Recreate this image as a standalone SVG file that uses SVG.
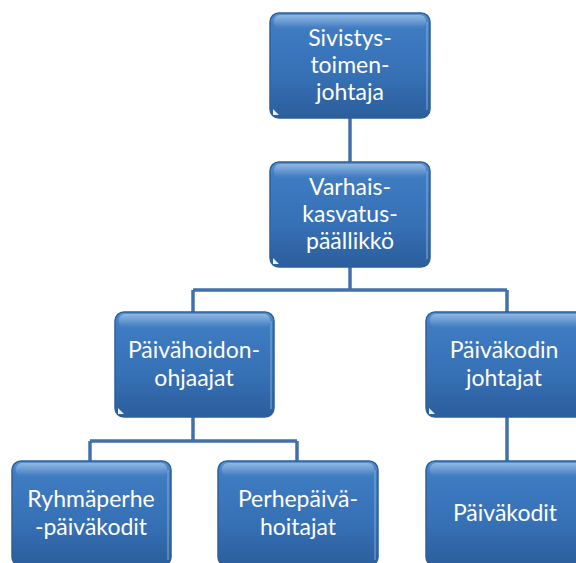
<svg xmlns="http://www.w3.org/2000/svg" width="576" height="563" viewBox="0 0 576 563">
<style>
.box{fill:url(#g);stroke:#2f5f98;stroke-width:1.5}
.gloss{fill:url(#h)}
.edge{fill:none;stroke:#8fb8e6;stroke-width:1.2;opacity:0.7}
.t{font-family:Lato,"Open Sans","Liberation Sans",sans-serif;font-size:23px;fill:#ffffff;text-anchor:middle}
.c{fill:none;stroke:#4170aa;stroke-width:3.5}
.tri{fill:#ffffff;opacity:0.9}
</style>
<defs>
<linearGradient id="g" x1="0" y1="0" x2="0" y2="1">
<stop offset="0" stop-color="#5694d4"/>
<stop offset="0.12" stop-color="#3f7cc2"/>
<stop offset="0.6" stop-color="#3670b5"/>
<stop offset="1" stop-color="#2b5e9c"/>
</linearGradient>
<linearGradient id="h" x1="0" y1="0" x2="0" y2="1">
<stop offset="0" stop-color="#ffffff" stop-opacity="0.35"/>
<stop offset="1" stop-color="#ffffff" stop-opacity="0"/>
</linearGradient>
</defs>
<rect width="576" height="563" fill="#ffffff"/>
<g id="connectors">
<path class="c" d="M350 118V162M350 267V290M193 290H507M193 290V312M507 290V312M193 417V441M90 441H297M90 441V461M297 441V461M507 417V461"/>
</g>
<g id="n1">
<rect class="box" x="270" y="13" width="160" height="105" rx="9"/>
<rect class="gloss" x="274" y="15" width="152" height="14" rx="6"/>
<path class="edge" d="M427 22V110"/>
<path class="tri" d="M273 109L279 115H273Z"/>
<text class="t" x="350" y="46">Sivistys-</text>
<text class="t" x="350" y="73">toimen-</text>
<text class="t" x="350" y="100">johtaja</text>
</g>
<g id="n2">
<rect class="box" x="270" y="162" width="160" height="105" rx="9"/>
<rect class="gloss" x="274" y="164" width="152" height="14" rx="6"/>
<path class="edge" d="M427 171V259"/>
<path class="tri" d="M273 258L279 264H273Z"/>
<text class="t" x="350" y="195">Varhais-</text>
<text class="t" x="350" y="222">kasvatus-</text>
<text class="t" x="350" y="249">päällikkö</text>
</g>
<g id="n3">
<rect class="box" x="115" y="312" width="159" height="105" rx="9"/>
<rect class="gloss" x="119" y="314" width="151" height="14" rx="6"/>
<path class="edge" d="M271 321V409"/>
<path class="tri" d="M118 408L124 414H118Z"/>
<text class="t" x="194" y="358">Päivähoidon-</text>
<text class="t" x="194" y="386">ohjaajat</text>
</g>
<g id="n4">
<rect class="box" x="426" y="312" width="160" height="105" rx="9"/>
<rect class="gloss" x="430" y="314" width="152" height="14" rx="6"/>
<path class="tri" d="M429 408L435 414H429Z"/>
<text class="t" x="504" y="358">Päiväkodin</text>
<text class="t" x="504" y="386">johtajat</text>
</g>
<g id="n5">
<rect class="box" x="12" y="461" width="159" height="105" rx="9"/>
<rect class="gloss" x="16" y="463" width="151" height="14" rx="6"/>
<path class="edge" d="M168 470V560"/>
<text class="t" x="91" y="507">Ryhmäperhe</text>
<text class="t" x="91" y="535">-päiväkodit</text>
</g>
<g id="n6">
<rect class="box" x="218" y="461" width="160" height="105" rx="9"/>
<rect class="gloss" x="222" y="463" width="152" height="14" rx="6"/>
<path class="edge" d="M375 470V560"/>
<text class="t" x="298" y="507">Perhepäivä-</text>
<text class="t" x="298" y="535">hoitajat</text>
</g>
<g id="n7">
<rect class="box" x="426" y="461" width="160" height="105" rx="9"/>
<rect class="gloss" x="430" y="463" width="152" height="14" rx="6"/>
<text class="t" x="505" y="521">Päiväkodit</text>
</g>
</svg>
